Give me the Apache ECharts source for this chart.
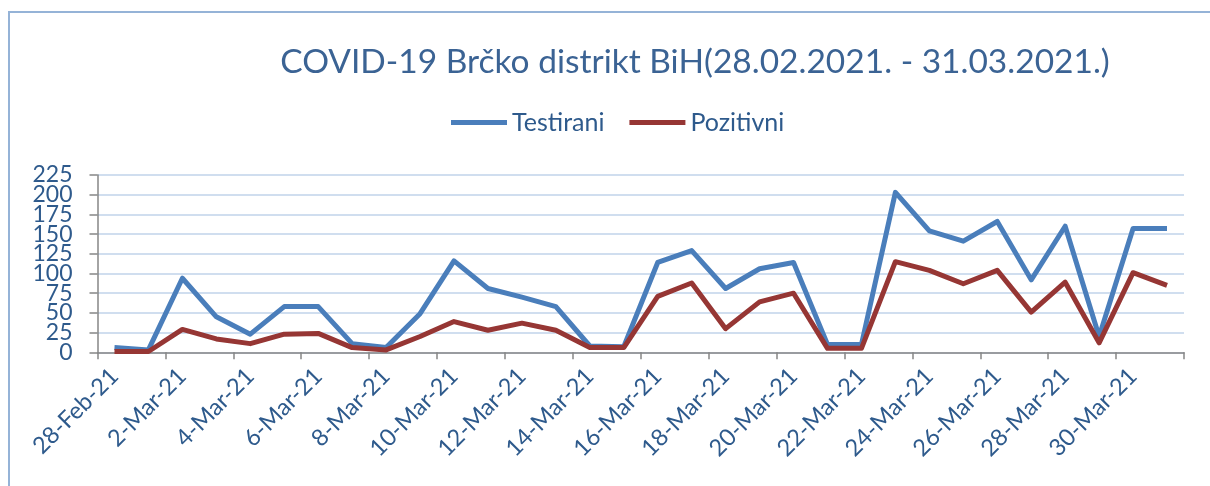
<!DOCTYPE html>
<html>
<head>
<meta charset="utf-8">
<script src="https://cdn.jsdelivr.net/npm/echarts@6/dist/echarts.min.js"></script>
<style>
html,body{margin:0;padding:0;background:#fff;}
#c{width:1210px;height:486px;}
</style>
</head>
<body>
<div id="c"></div>
<script>
const categories = ['28-Feb-21','1-Mar-21','2-Mar-21','3-Mar-21','4-Mar-21','5-Mar-21','6-Mar-21','7-Mar-21','8-Mar-21','9-Mar-21','10-Mar-21','11-Mar-21','12-Mar-21','13-Mar-21','14-Mar-21','15-Mar-21','16-Mar-21','17-Mar-21','18-Mar-21','19-Mar-21','20-Mar-21','21-Mar-21','22-Mar-21','23-Mar-21','24-Mar-21','25-Mar-21','26-Mar-21','27-Mar-21','28-Mar-21','29-Mar-21','30-Mar-21','31-Mar-21'];
const testirani = [6,3,94,45,23,58,58,11,6,49,116,81,70,58,8,7,114,129,81,106,114,10,10,203,154,141,166,92,160,20,157,157];
const pozitivni = [1,1,29,17,11,23,24,6,3,20,39,28,37,28,6,6,71,88,30,64,75,5,5,115,104,87,104,51,89,12,101,85];
const yTicksA = [0,50,100,150,200];
const yTicksB = [25,75,125,175,225];

const FONT = 'Lato, "Noto Sans", sans-serif';
const TXT = '#2e5a8c';
const yLabel = function(list){
  return {margin:25,showMinLabel:true,showMaxLabel:true,hideOverlap:false,fontFamily:FONT,fontSize:23,color:TXT,
    formatter:function(v){return list.indexOf(v)>=0?String(v):'';}};
};
const chart = echarts.init(document.getElementById('c'), null, {renderer:'canvas'});
chart.setOption({
  animation:false,
  backgroundColor:'#ffffff',
  graphic:[{type:'rect',shape:{x:9,y:12,width:1400,height:600},style:{fill:'none',stroke:'#95b3d7',lineWidth:2},silent:true}],
  title:{text:'COVID-19 Brčko distrikt BiH(28.02.2021. - 31.03.2021.)',left:690,textAlign:'center',top:40,
    textStyle:{fontFamily:FONT,fontSize:33.5,fontWeight:'normal',color:'#3b6394'}},
  legend:{left:446,top:105,itemGap:25,itemWidth:56,itemHeight:5,icon:'rect',
    textStyle:{fontFamily:FONT,fontSize:25,color:TXT},
    data:['Testirani','Pozitivni']},
  grid:{left:97.5,right:26,top:175,bottom:133.7,containLabel:false},
  xAxis:{type:'category',data:categories,boundaryGap:true,
    axisLine:{lineStyle:{color:'#868686',width:1.5}},
    axisTick:{show:true,interval:1,length:7,lineStyle:{color:'#868686',width:1.5}},
    axisLabel:{interval:1,rotate:45,margin:20,fontFamily:FONT,fontSize:23.5,color:TXT}},
  yAxis:[
    {type:'value',min:0,max:225,interval:25,position:'left',
      axisLine:{show:true,lineStyle:{color:'#868686',width:1.5}},
      axisTick:{show:true,length:8,lineStyle:{color:'#868686',width:1.5}},
      splitLine:{lineStyle:{color:'#c0d3ea',width:1.5}},
      axisLabel:yLabel(yTicksA)},
    {type:'value',min:0,max:225,interval:25,position:'left',offset:0,
      axisLine:{show:false},axisTick:{show:false},splitLine:{show:false},
      axisLabel:yLabel(yTicksB)}
  ],
  series:[
    {name:'Testirani',type:'line',yAxisIndex:0,data:testirani,symbol:'none',color:'#4a7ebb',lineStyle:{width:5,color:'#4a7ebb',join:'round'}},
    {name:'Pozitivni',type:'line',yAxisIndex:0,data:pozitivni,symbol:'none',color:'#963634',lineStyle:{width:5,color:'#963634',join:'round'}}
  ]
});
</script>
</body>
</html>
